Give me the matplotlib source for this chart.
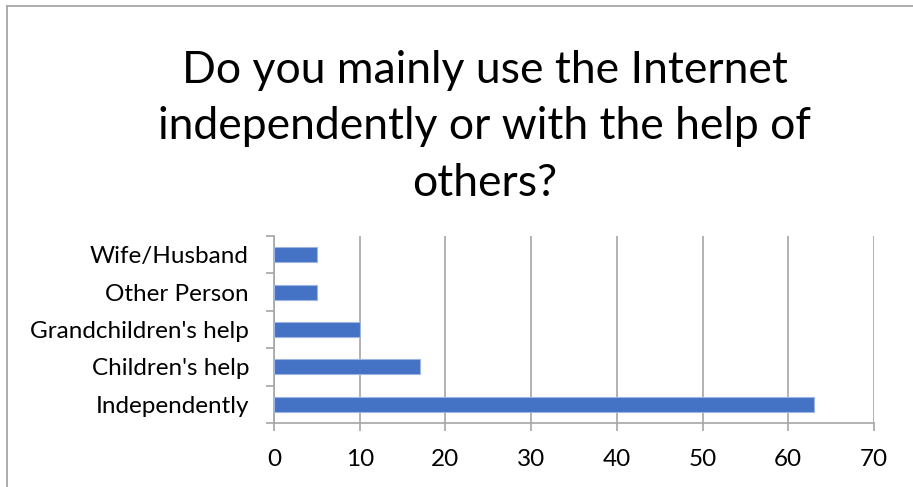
import matplotlib
matplotlib.use("Agg")
import matplotlib.pyplot as plt
from matplotlib.lines import Line2D
import numpy as np

# Survey answers (bottom to top as drawn)
categories = ["Independently", "Children's help", "Grandchildren's help",
              "Other Person", "Wife/Husband"]
counts = [63, 17, 10, 5, 5]
x_ticks = [0, 10, 20, 30, 40, 50, 60, 70]
title = "Do you mainly use the Internet\nindependently or with the help of\nothers?"

plt.rcParams["font.family"] = ["Lato", "DejaVu Sans"]

fig = plt.figure(figsize=(9.13, 4.87), dpi=100)
fig.patch.set_facecolor("white")

# Chart frame (left and top edges)
frame_col = "#A6A6A6"
fig.add_artist(Line2D([7 / 913, 7 / 913], [0, 1 - 6 / 487], transform=fig.transFigure,
                      color=frame_col, lw=1.3))
fig.add_artist(Line2D([7 / 913, 1], [1 - 6 / 487, 1 - 6 / 487], transform=fig.transFigure,
                      color=frame_col, lw=1.3))

ax = fig.add_axes([274 / 913, 64 / 487, 600 / 913, 187 / 487])

y = np.arange(len(categories))
ax.barh(y, counts, height=0.4, color="#4472C4", edgecolor="#9DB5E0", linewidth=0.8,
        zorder=3)

ax.set_xlim(0, 70)
ax.set_ylim(-0.5, len(categories) - 0.5)
ax.set_xticks(x_ticks)
ax.set_xticklabels([str(t) for t in x_ticks])

ax.set_yticks(y)
ax.set_yticklabels(categories)
ax.set_yticks(np.arange(-0.5, len(categories)), minor=True)

grid_col = "#A6A6A6"
ax.grid(axis="x", color=grid_col, linewidth=1.2, zorder=0)
for s in ["top", "right"]:
    ax.spines[s].set_visible(False)
for s in ["left", "bottom"]:
    ax.spines[s].set_color(grid_col)
    ax.spines[s].set_linewidth(1.2)

ax.tick_params(axis="x", direction="out", length=6, width=1.2, color=grid_col,
               labelsize=17.5, pad=13, labelcolor="black")
ax.tick_params(axis="y", which="major", length=0, labelsize=17.5, pad=18,
               labelcolor="black")
ax.tick_params(axis="y", which="minor", direction="out", length=6, width=1.2,
               color=grid_col)

fig.text(485 / 913, 1 - 127 / 487, title, ha="center", va="center", fontsize=32,
         linespacing=1.47, color="black")

fig.savefig("out.png", dpi=100, facecolor="white")
